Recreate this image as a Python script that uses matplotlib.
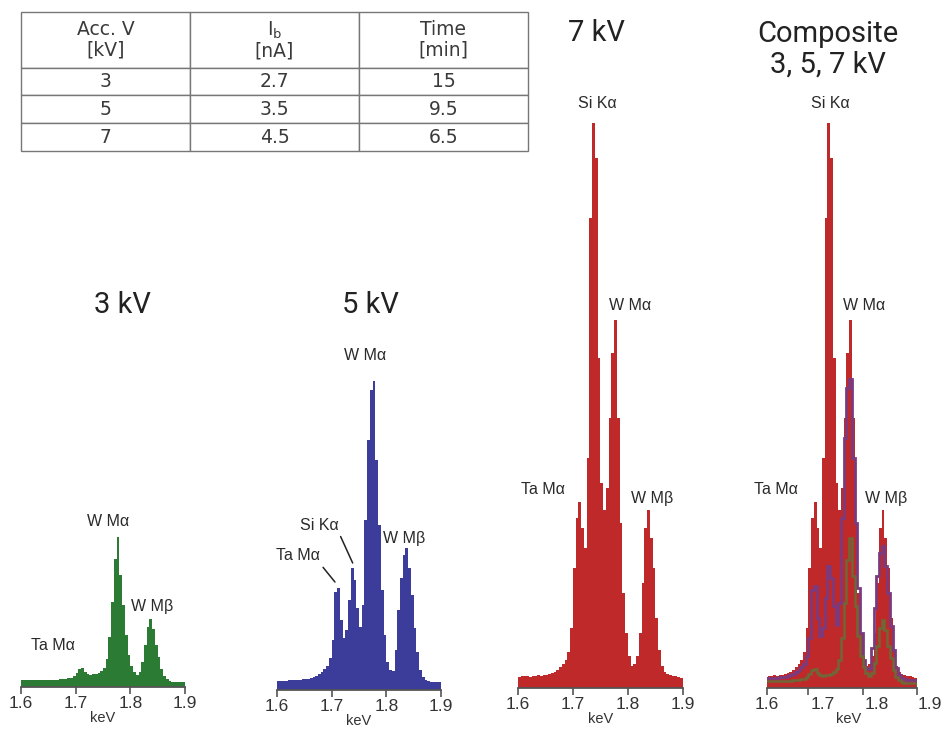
import numpy as np
import matplotlib
matplotlib.use("Agg")
import matplotlib.pyplot as plt
from matplotlib.transforms import ScaledTranslation

# DATA
edges = np.linspace(1.6, 1.9, 61)          # keV bins, 0.005 keV wide

counts_3kv = [7, 7, 7, 7, 7, 7, 7, 7, 7, 7,
              7, 7, 7, 7, 8, 8, 8, 9, 9, 11,
              14, 18, 19, 15, 13, 12, 13, 13, 14, 16,
              19, 28, 50, 85, 128, 150, 112, 82, 52, 32,
              21, 15, 12, 15, 25, 42, 60, 68, 58, 42,
              30, 18, 11, 8, 6, 5, 5, 5, 5, 5]

counts_5kv = [9, 9, 9, 9, 10, 10, 10, 10, 10, 11,
              11, 11, 12, 13, 14, 16, 18, 21, 24, 32,
              50, 98, 102, 70, 52, 60, 90, 122, 110, 82,
              63, 85, 170, 250, 300, 309, 230, 165, 100, 55,
              28, 20, 19, 40, 80, 112, 135, 142, 122, 95,
              62, 38, 20, 13, 10, 9, 8, 8, 8, 8]

counts_7kv = [11, 12, 12, 12, 11, 12, 12, 13, 12, 13,
              13, 14, 15, 16, 18, 21, 24, 28, 36, 60,
              120, 170, 186, 160, 140, 230, 470, 565, 530, 330,
              205, 178, 200, 270, 335, 368, 270, 165, 95, 55,
              32, 22, 24, 32, 55, 105, 160, 178, 150, 120,
              70, 38, 22, 16, 14, 13, 12, 12, 11, 10]

tick_vals = [1.6, 1.7, 1.8, 1.9]
tick_labels = ["1.6", "1.7", "1.8", "1.9"]

table_header = ["Acc. V\n[kV]", "I$_\\mathregular{b}$\n[nA]", "Time\n[min]"]
table_rows = [["3", "2.7", "15"],
              ["5", "3.5", "9.5"],
              ["7", "4.5", "6.5"]]

# peak labels per panel: (text, keV, height)
labels_3kv = [("Ta M\u03b1", 1.6585, 41), ("W M\u03b1", 1.759, 166), ("W M\u03b2", 1.8395, 81)]
labels_5kv = [("W M\u03b1", 1.761, 334), ("W M\u03b2", 1.8322, 152)]
leaders_5kv = [("Ta M\u03b1", 1.6384, 134, 1.706, 108), ("Si K\u03b1", 1.6777, 165, 1.7384, 127)]
labels_7kv = [("Si K\u03b1", 1.7436, 585), ("W M\u03b1", 1.8036, 382),
              ("Ta M\u03b1", 1.6455, 199), ("W M\u03b2", 1.8436, 189)]
labels_comp = [("Si K\u03b1", 1.7398, 585), ("W M\u03b1", 1.8024, 382),
               ("Ta M\u03b1", 1.6405, 199), ("W M\u03b2", 1.8429, 189)]

GREEN = "#2b7b34"
BLUE = "#3c3c9a"
RED = "#c0292a"
PURPLE = "#7c3a7e"      # blue trace seen over the red fill
OLIVE = "#6f6736"       # green trace seen over the red fill
TXT = "#2a2a2a"

W, H = 945, 729
fig = plt.figure(figsize=(W / 100, H / 100), dpi=100)
fig.patch.set_facecolor("white")


def px_axes(x0, x1, base, span=600):
    return fig.add_axes([x0 / W, 1 - base / H, (x1 - x0) / W, span / H])


def style(ax, xlo=1.6, label_x=0.5):
    ax.set_xlim(xlo, 1.9)
    ax.set_ylim(0, 600)
    ax.patch.set_alpha(0)
    for s in ("left", "right", "top"):
        ax.spines[s].set_visible(False)
    ax.spines["bottom"].set_color("#555555")
    ax.spines["bottom"].set_linewidth(1.3)
    ax.set_yticks([])
    ax.tick_params(axis="x", direction="out", length=5, width=1.2, color="#555555",
                   pad=1.5, labelsize=12.5, labelcolor="#333333")
    ax.set_xlabel("keV", fontsize=10.5, color="#333333", family="Liberation Sans")
    ax.xaxis.set_label_coords(label_x, -0.04)


def put_labels(ax, items):
    for txt, x, y in items:
        ax.text(x, y, txt, ha="center", va="center", fontsize=11.5, color=TXT,
                family="Liberation Sans", clip_on=False)


# 3 kV
ax1 = px_axes(21, 185, 687)
ax1.stairs(counts_3kv, edges, fill=True, color=GREEN, lw=0)
style(ax1)
ax1.set_xticks(tick_vals, tick_labels, family="Liberation Sans")
put_labels(ax1, labels_3kv)

# 5 kV
ax2 = px_axes(277, 441, 690)
ax2.stairs(counts_5kv, edges, fill=True, color=BLUE, lw=0)
style(ax2)
ax2.set_xticks(tick_vals, tick_labels, family="Liberation Sans")
put_labels(ax2, labels_5kv)
for txt, tx, ty, px, py in leaders_5kv:
    ax2.annotate(txt, xy=(px, py), xytext=(tx, ty), ha="center", va="center",
                 fontsize=11.5, color=TXT, family="Liberation Sans",
                 arrowprops=dict(arrowstyle="-", color="#222222", lw=1.1,
                                 relpos=(1, 0), shrinkA=1, shrinkB=0))

# 7 kV
ax3 = px_axes(518, 683, 688)
ax3.stairs(counts_7kv, edges, fill=True, color=RED, lw=0)
style(ax3)
ax3.set_xticks(tick_vals, tick_labels, family="Liberation Sans")
put_labels(ax3, labels_7kv)

# composite (axis starts a little past 1.6, labels pasted slightly right)
ax4 = px_axes(767, 917, 688)
ax4.stairs(counts_7kv, edges, fill=True, color=RED, lw=0)
ax4.stairs(counts_5kv, edges, color=PURPLE, lw=2.0)
ax4.stairs(counts_3kv, edges, color=OLIVE, lw=1.8)
style(ax4, xlo=1.6238, label_x=0.547)
ax4.set_xticks([1.6238, 1.7, 1.8, 1.9], tick_labels, family="Liberation Sans")
for lab, dx in zip(ax4.get_xticklabels(), [0, 14, 14, 13]):
    lab.set_transform(lab.get_transform() + ScaledTranslation(dx / 100, 0, fig.dpi_scale_trans))
put_labels(ax4, labels_comp)

# titles
title_kw = dict(ha="center", va="center", fontsize=21, color="#222222", family="Roboto")
fig.text(122 / W, 1 - 305 / H, "3 kV", **title_kw)
fig.text(370 / W, 1 - 305 / H, "5 kV", **title_kw)
fig.text(596 / W, 1 - 33 / H, "7 kV", **title_kw)
fig.text(828 / W, 1 - 34 / H, "Composite", **title_kw)
fig.text(828 / W, 1 - 65 / H, "3, 5, 7 kV", **title_kw)

# table
tax = fig.add_axes([21 / W, 1 - 151 / H, 507 / W, 139 / H])
tax.axis("off")
tbl = tax.table(cellText=table_rows, colLabels=table_header, cellLoc="center",
                bbox=[0, 0, 1, 1])
tbl.auto_set_font_size(False)
for (r, c), cell in tbl.get_celld().items():
    cell.set_edgecolor("#777777")
    cell.set_linewidth(1.0)
    t = cell.get_text()
    t.set_fontsize(13.5)
    t.set_color("#3a3a3a")
    t.set_family("DejaVu Sans")
    if r == 0:
        cell.set_height(cell.get_height() * 2)
        t.set_linespacing(1.05)

fig.savefig("out.png", dpi=100, facecolor="white")
